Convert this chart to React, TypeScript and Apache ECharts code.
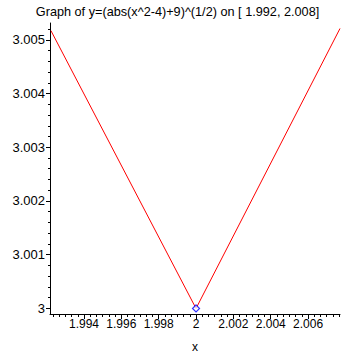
import React, { useEffect, useRef } from "react";
import * as echarts from "echarts";

const titleText = "Graph of y=(abs(x^2-4)+9)^(1/2) on [ 1.992, 2.008]";
const xMajorTicks = [1.994, 1.996, 1.998, 2, 2.002, 2.004, 2.006];
const yMajorTicks = [3, 3.001, 3.002, 3.003, 3.004, 3.005];
const curveX = [1.99223, 2, 2.00771];
const curveY = [3.00517, 3, 3.00521];
const pointX = [2];
const pointY = [3];

const X_MIN = 1.99218;
const X_MAX = 2.00771;
const Y_MIN = 2.999897;
const Y_MAX = 3.005312;

const xMinorTicks: number[] = [];
for (let k = -23; k <= 23; k++) xMinorTicks.push(2 + k / 3000);
const yMinorTicks: number[] = [];
for (let k = 0; k <= 26; k++) yMinorTicks.push(3 + k / 5000);

const FONT = "Liberation Sans";

export default function App() {
  const ref = useRef<HTMLDivElement>(null);
  useEffect(() => {
    if (!ref.current) return;
    const chart = echarts.init(ref.current, null, { renderer: "svg" });
    const axisLine = { show: true, onZero: false, lineStyle: { color: "#000", width: 1 } };
    chart.setOption({
      animation: false,
      backgroundColor: "#fff",
      title: {
        text: titleText,
        left: "center",
        top: 0,
        textStyle: { fontFamily: FONT, fontSize: 12.7, fontWeight: "normal", color: "#000" },
      },
      grid: { left: 50, right: 15, top: 23, bottom: 41 },
      graphic: [
        {
          type: "text",
          left: 192,
          top: 341,
          style: { text: "x", fontFamily: FONT, fontSize: 12, fill: "#000" },
        },
      ],
      xAxis: [
        {
          type: "value",
          min: X_MIN,
          max: X_MAX,
          axisLine,
          axisTick: { show: true, customValues: xMajorTicks, length: 5, lineStyle: { color: "#000" } },
          axisLabel: {
            customValues: xMajorTicks,
            fontFamily: FONT,
            fontSize: 12,
            color: "#000",
            margin: 4,
            formatter: (v: number) => String(v),
          },
          splitLine: { show: false },
        },
        {
          type: "value",
          min: X_MIN,
          max: X_MAX,
          position: "bottom",
          axisLine: { show: false },
          axisTick: { show: true, customValues: xMinorTicks, length: 3, lineStyle: { color: "#000" } },
          axisLabel: { show: false },
          splitLine: { show: false },
        },
      ],
      yAxis: [
        {
          type: "value",
          min: Y_MIN,
          max: Y_MAX,
          axisLine,
          axisTick: { show: true, customValues: yMajorTicks, length: 4, lineStyle: { color: "#000" } },
          axisLabel: {
            customValues: yMajorTicks,
            fontFamily: FONT,
            fontSize: 13,
            color: "#000",
            margin: 5,
            formatter: (v: number) => String(v),
          },
          splitLine: { show: false },
        },
        {
          type: "value",
          min: Y_MIN,
          max: Y_MAX,
          position: "left",
          axisLine: { show: false },
          axisTick: { show: true, customValues: yMinorTicks, length: 2, lineStyle: { color: "#000" } },
          axisLabel: { show: false },
          splitLine: { show: false },
        },
      ],
      series: [
        {
          type: "line",
          data: curveX.map((x, i) => [x, curveY[i]]),
          showSymbol: false,
          lineStyle: { color: "#ff0000", width: 1 },
          silent: true,
          z: 2,
        },
        {
          type: "scatter",
          data: pointX.map((x, i) => [x, pointY[i]]),
          symbol: "diamond",
          symbolSize: 7,
          itemStyle: { color: "#ffffff", borderColor: "#0000ff", borderWidth: 1.2 },
          silent: true,
          z: 5,
        },
      ],
    });
    return () => chart.dispose();
  }, []);
  return <div ref={ref} style={{ position: "fixed", left: 0, top: 0, width: 355, height: 355 }} />;
}
